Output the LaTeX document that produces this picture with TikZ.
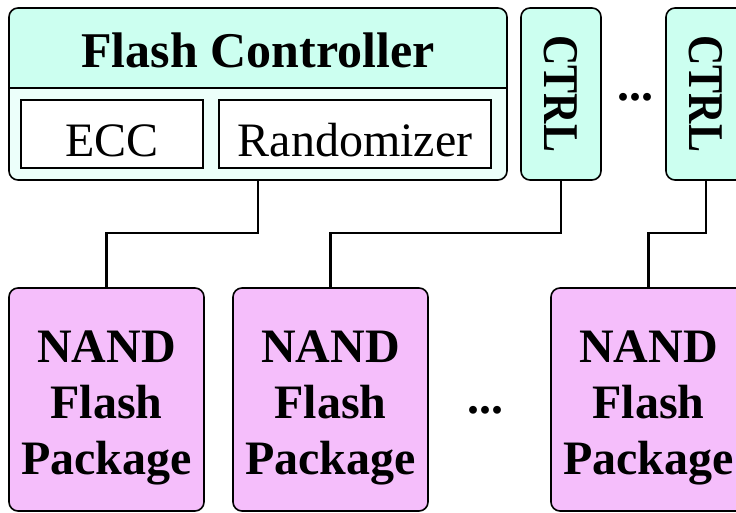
\documentclass[tikz,border=0pt]{standalone}
\usepackage{fontspec}
\usepackage{graphicx}
\setmainfont{Liberation Serif}
\usetikzlibrary{calc}
\definecolor{hdr}{RGB}{204,255,240}
\definecolor{lgt}{RGB}{236,255,250}
\definecolor{pnk}{RGB}{245,190,251}
\begin{document}
\begin{tikzpicture}[x=1pt,y=-1pt,
  box/.style={draw, line width=1.6pt, inner sep=0pt, outer sep=0pt},
  rbox/.style={box, rounded corners=9pt},
  bigbf/.style={font=\fontsize{48}{56}\selectfont\bfseries, inner sep=0pt},
  titlebf/.style={font=\fontsize{50}{56}\selectfont\bfseries, inner sep=0pt},
  reg/.style={font=\fontsize{48}{56}\selectfont, inner sep=0pt},
  wire/.style={line width=2.8pt}]
\useasboundingbox (0,0) rectangle (736,513);
\clip (0,0) rectangle (736,513);
% Flash controller
\node[fill=lgt, rounded corners=9pt, inner sep=0pt, outer sep=0pt,
      minimum width=498pt, minimum height=172pt] (fc) at (258,94) {};
\begin{scope}
  \clip[rounded corners=9pt] (fc.north west) rectangle (fc.south east);
  \fill[hdr] (fc.north west) rectangle ($(fc.north east)+(0,80)$);
\end{scope}
\draw[line width=1.6pt] ($(fc.north west)+(0,80)$) -- ($(fc.north east)+(0,80)$);
\draw[line width=1.6pt, rounded corners=9pt] (fc.north west) rectangle (fc.south east);
\node[titlebf, anchor=base] (fct) at (258,68) {Flash Controller};
\node[box, fill=white, minimum width=182pt, minimum height=68pt] (ecc) at (112,134) {};
\node[reg, anchor=base] (ecct) at (112,157) {ECC};
\node[box, fill=white, minimum width=272pt, minimum height=68pt] (rnd) at (355,134) {};
\node[reg, anchor=base] (rndt) at (355,157) {Randomizer};
% CTRL boxes
\node[rbox, fill=hdr, minimum width=80pt, minimum height=172pt] (c1) at (561,94) {};
\node[titlebf, rotate=-90] (c1t) at (c1.center) {\scalebox{0.84}[1]{CTRL}};
\node[rbox, fill=hdr, minimum width=80pt, minimum height=172pt] (c2) at (706,94) {};
\node[titlebf, rotate=-90] (c2t) at (c2.center) {\scalebox{0.84}[1]{CTRL}};
\node[bigbf] (d1) at (635,97) {...};
% NAND packages
\foreach \n/\x in {n1/106.5, n2/330.5, n3/648.5}{
  \node[rbox, fill=pnk, minimum width=195pt, minimum height=223pt] (\n) at (\x,399.5) {};
  \node[bigbf, align=center] (\n t) at ($(\n.center)+(0,8.5)$) {NAND\\Flash\\Package};
}
\node[bigbf] (d2) at (485,410) {...};
% wires
\draw[wire] ($(fc.south west)+(249,0)$) -- ++(0,53) -| (n1.north);
\draw[wire] (c1.south) -- ++(0,53) -| (n2.north);
\draw[wire] (c2.south) -- ++(0,53) -| (n3.north);
\end{tikzpicture}
\end{document}
